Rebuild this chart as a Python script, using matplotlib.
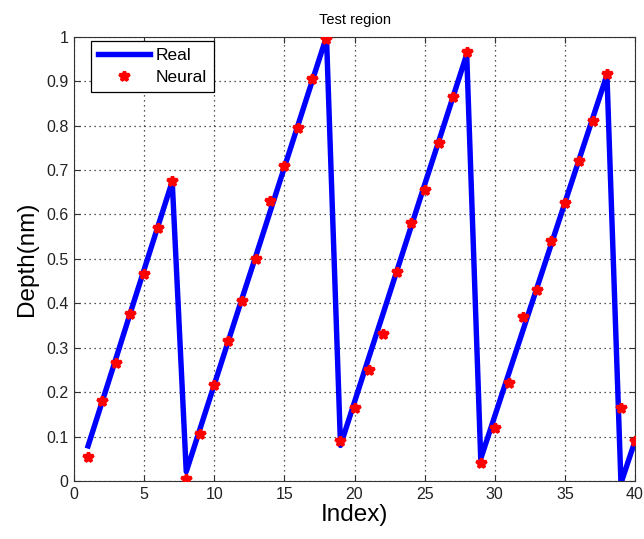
import matplotlib
matplotlib.use("Agg")
import matplotlib.pyplot as plt

index = list(range(1, 41))
real = [0.079, 0.178, 0.277, 0.377, 0.476, 0.575, 0.674,
        0.021, 0.119, 0.217, 0.315, 0.413, 0.510, 0.608, 0.706, 0.804, 0.902, 1.000,
        0.080, 0.178, 0.276, 0.373, 0.471, 0.569, 0.667, 0.764, 0.862, 0.960,
        0.050, 0.146, 0.242, 0.338, 0.434, 0.530, 0.626, 0.722, 0.818, 0.914,
        -0.005, 0.09]
neural = [0.055, 0.18, 0.265, 0.375, 0.465, 0.57, 0.675,
          0.005, 0.105, 0.215, 0.315, 0.405, 0.50, 0.63, 0.71, 0.795, 0.905, 0.995,
          0.09, 0.165, 0.25, 0.33, 0.47, 0.58, 0.655, 0.76, 0.865, 0.965,
          0.04, 0.12, 0.22, 0.37, 0.43, 0.54, 0.625, 0.72, 0.81, 0.915,
          0.165, 0.09]
xticks = [0, 5, 10, 15, 20, 25, 30, 35, 40]
yticks = [0, 0.1, 0.2, 0.3, 0.4, 0.5, 0.6, 0.7, 0.8, 0.9, 1]
yticklabels = ["0", "0.1", "0.2", "0.3", "0.4", "0.5", "0.6", "0.7", "0.8", "0.9", "1"]

plt.rcParams['font.family'] = ['Liberation Sans', 'DejaVu Sans']

fig = plt.figure(figsize=(6.44, 5.39), dpi=100)
ax = fig.add_axes([0.115, 0.1076, 0.871, 0.8244])

ax.plot(index, real, color='#0000ff', lw=3.9, label='Real', zorder=3)
ax.plot(index, neural, linestyle='none', marker='*', color='#ff0000',
        markersize=7.5, markeredgewidth=2.4, label='Neural', zorder=4)

ax.set_xlim(0, 40)
ax.set_ylim(0, 1)
ax.set_xticks(xticks)
ax.set_yticks(yticks)
ax.set_yticklabels(yticklabels)
ax.tick_params(direction='in', top=True, right=True, labelsize=11.5, length=4,
               color='#333333', labelcolor='#222222', pad=4)
ax.grid(True, linestyle=(0, (1, 3)), color='#222222', linewidth=0.9)
for s in ax.spines.values():
    s.set_color('#333333')

ax.set_title('Test region', fontsize=10.5, pad=9)
ax.set_xlabel('Index)', fontsize=17.5, labelpad=2)
ax.set_ylabel('Depth(nm)', fontsize=17.5, labelpad=6)

leg = ax.legend(loc='upper left', bbox_to_anchor=(0.030, 0.990), borderaxespad=0,
                fancybox=False, edgecolor='black', fontsize=12.5, handlelength=3.0,
                handletextpad=0.35, borderpad=0.4, labelspacing=0.38, framealpha=1)
leg.get_frame().set_linewidth(0.9)

fig.savefig('out.png', dpi=100)
